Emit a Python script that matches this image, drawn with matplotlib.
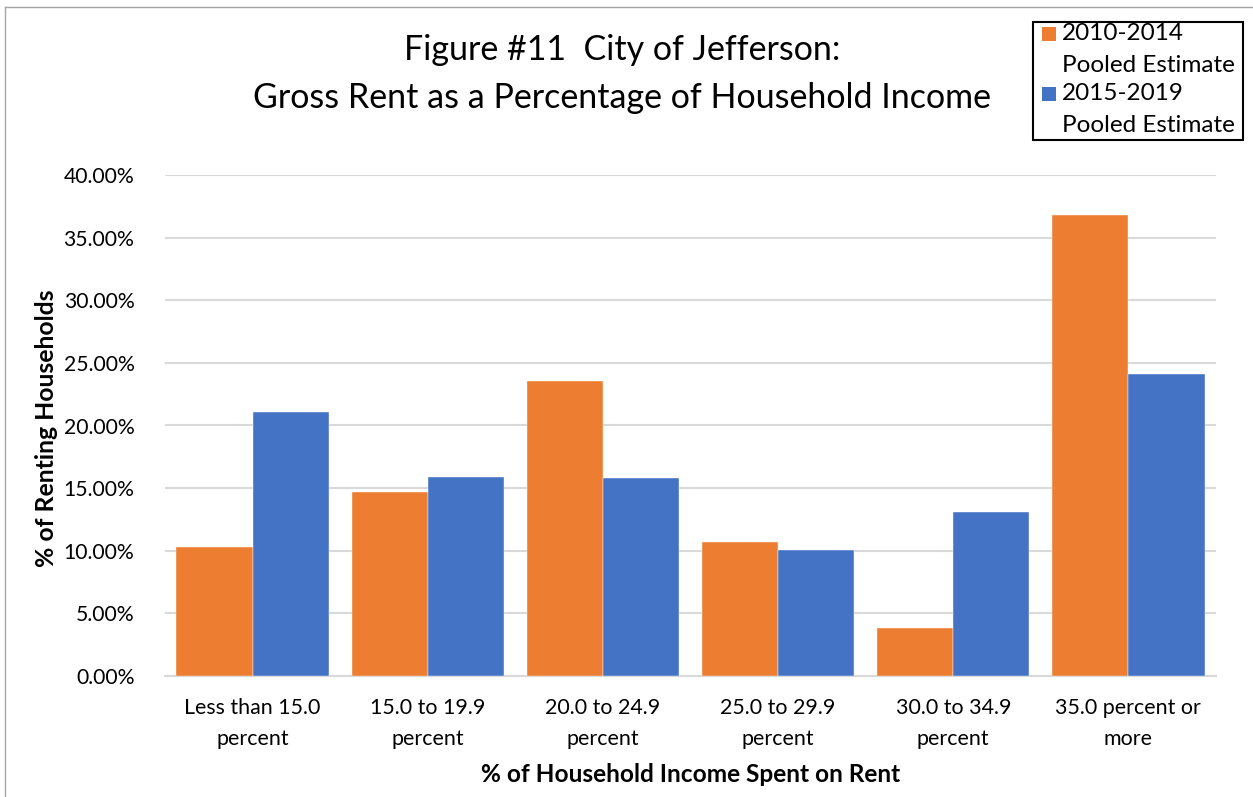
import matplotlib
matplotlib.use("Agg")
import matplotlib.pyplot as plt
import numpy as np
from matplotlib.patches import Rectangle

plt.rcParams['font.family'] = ['Lato', 'DejaVu Sans']

categories = ["Less than 15.0\npercent", "15.0 to 19.9\npercent", "20.0 to 24.9\npercent",
              "25.0 to 29.9\npercent", "30.0 to 34.9\npercent", "35.0 percent or\nmore"]
series_names = ["2010-2014\nPooled Estimate", "2015-2019\nPooled Estimate"]
vals_2010_2014 = [10.30, 14.69, 23.55, 10.70, 3.83, 36.81]
vals_2015_2019 = [21.08, 15.89, 15.81, 10.06, 13.09, 24.11]
yticks = [0, 5, 10, 15, 20, 25, 30, 35, 40]

orange = "#ED7D31"
blue = "#4472C4"
colors = [orange, blue]

W, H = 1253, 797
fig = plt.figure(figsize=(W/100, H/100), dpi=100)
ax = fig.add_axes([165/W, 1-676/H, (1216-165)/W, (676-175)/H])

x = np.arange(len(categories))
w = 1/2.3
ax.bar(x - w/2, vals_2010_2014, w, color=orange, label=series_names[0], zorder=3,
       edgecolor="white", linewidth=0.3)
ax.bar(x + w/2, vals_2015_2019, w, color=blue, label=series_names[1], zorder=3,
       edgecolor="white", linewidth=0.3)

ax.set_xlim(-0.5, len(categories) - 0.5)
ax.set_ylim(0, 40)
ax.set_yticks(yticks)
ax.set_yticklabels([f"{v:.2f}%" for v in yticks], fontsize=15.2)
ax.set_xticks(x)
ax.set_xticklabels(categories, fontsize=15.4, linespacing=1.65)
ax.yaxis.grid(True, color="#D9D9D9", linewidth=1.5, zorder=0)
ax.set_axisbelow(True)
for s in ["top", "right", "left"]:
    ax.spines[s].set_visible(False)
ax.spines["bottom"].set_color("#D9D9D9")
ax.spines["bottom"].set_linewidth(1.5)
ax.tick_params(axis="x", length=0, pad=16)
ax.tick_params(axis="y", length=0, pad=22)

fig.text(47/W, 1-428/H, "% of Renting Households", fontsize=17.8, fontweight="bold",
         rotation=90, ha="center", va="center")
fig.text(691/W, 1-774/H, "% of Household Income Spent on Rent", fontsize=17.6,
         fontweight="bold", ha="center", va="center")

fig.text(622/W, 1-50/H, "Figure #11  City of Jefferson:", ha="center", va="center", fontsize=24.5)
fig.text(622/W, 1-98/H, "Gross Rent as a Percentage of Household Income", ha="center", va="center", fontsize=24.5)

# legend, drawn by hand so the swatch sits beside the first line of each label
fig.add_artist(Rectangle((1033/W, 1-140/H), 210/W, 118/H, transform=fig.transFigure,
                         facecolor="white", edgecolor="black", linewidth=1.5))
for i, (name, c) in enumerate(zip(series_names, colors)):
    y0 = 34 + i * 60
    fig.add_artist(Rectangle((1042/W, 1-(y0+7)/H), 14/W, 14/H, transform=fig.transFigure,
                             facecolor=c, edgecolor="none"))
    first, second = name.split("\n")
    fig.text(1062/W, 1-y0/H, first, fontsize=17.5, ha="left", va="center")
    fig.text(1062/W, 1-(y0+32)/H, second, fontsize=17.5, ha="left", va="center")

# figure border (left and top visible)
fig.add_artist(plt.Line2D([5/W, 5/W], [0, 1-7/H], color="#A6A6A6", lw=1, transform=fig.transFigure))
fig.add_artist(plt.Line2D([5/W, 1], [1-7/H, 1-7/H], color="#A6A6A6", lw=1, transform=fig.transFigure))

fig.savefig("out.png", dpi=100)
